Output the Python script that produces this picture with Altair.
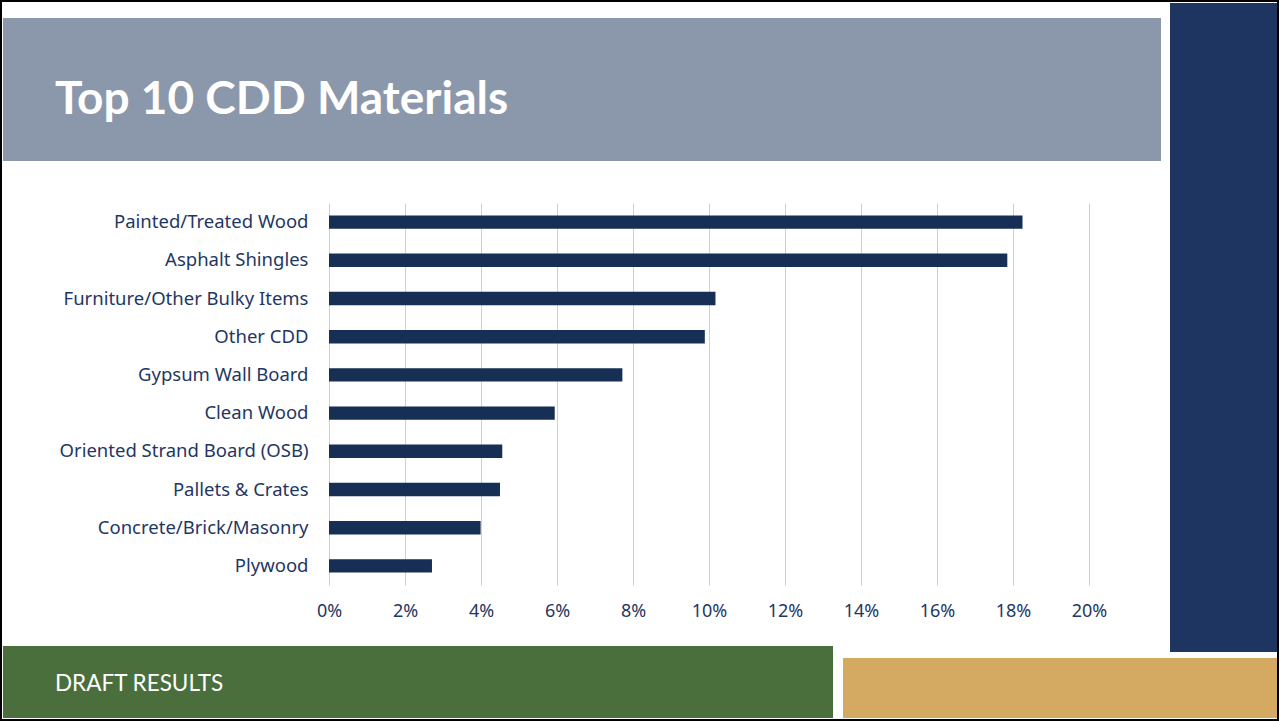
import altair as alt
import pandas as pd

# ---- data ----
categories = [
    "Painted/Treated Wood",
    "Asphalt Shingles",
    "Furniture/Other Bulky Items",
    "Other CDD",
    "Gypsum Wall Board",
    "Clean Wood",
    "Oriented Strand Board (OSB)",
    "Pallets & Crates",
    "Concrete/Brick/Masonry",
    "Plywood",
]
shares = [0.1825, 0.1785, 0.1017, 0.0989, 0.0772, 0.0594, 0.0456, 0.0450, 0.0399, 0.0271]
x_ticks = [0.0, 0.02, 0.04, 0.06, 0.08, 0.10, 0.12, 0.14, 0.16, 0.18, 0.20]
title_text = ["Top 10 CDD Materials"]
footer_text = ["DRAFT RESULTS"]

# ---- layout ----
W, H = 1279, 721
L, T = 329, 203          # plot origin on the page
PW, PH = 760, 382        # plot size

NAVY = "#172E55"
LABEL = "#1F3763"
GRID = "#BFD3F0"

df = pd.DataFrame({"material": categories, "share": shares})
one = pd.DataFrame({"k": [0]})


def box(x0, y0, x1, y1, color):
    return alt.Chart(one).mark_rect(color=color).encode(
        x=alt.value(x0 - L), x2=alt.value(x1 - L),
        y=alt.value(y0 - T), y2=alt.value(y1 - T),
    )


banner = box(3, 18, 1161, 161, "#8B98AB")
side = box(1170, 3, 1277, 652, "#1E3562")
green = box(3, 646, 833, 718, "#4A6F3C")
tan = box(843, 658, 1277, 718, "#D4AA62")

border = alt.Chart(one).mark_rect(filled=False, stroke="black", strokeWidth=2).encode(
    x=alt.value(1 - L), x2=alt.value(W - 1 - L),
    y=alt.value(1 - T), y2=alt.value(H - 1 - T),
)

title = alt.Chart(pd.DataFrame({"t": title_text})).mark_text(
    font="Lato", fontWeight="bold", fontSize=46, color="white",
    align="left", baseline="alphabetic",
).encode(x=alt.value(55 - L), y=alt.value(114 - T), text="t:N")

footer = alt.Chart(pd.DataFrame({"t": footer_text})).mark_text(
    font="Lato", fontSize=22.5, color="white",
    align="left", baseline="alphabetic",
).encode(x=alt.value(55 - L), y=alt.value(691 - T), text="t:N")

bars = alt.Chart(df).mark_bar(color=NAVY).encode(
    y=alt.Y(
        "material:N", sort=categories, title=None,
        scale=alt.Scale(paddingInner=0.65, paddingOuter=0.325),
        axis=alt.Axis(domain=False, ticks=False, grid=False, labelPadding=21,
                      labelLimit=400,
                      labelFont="Noto Sans", labelFontSize=18.5, labelColor=LABEL),
    ),
    x=alt.X(
        "share:Q", title=None,
        scale=alt.Scale(domain=[0, 0.2], nice=False),
        axis=alt.Axis(values=x_ticks, format=".0%", domain=False, ticks=False,
                      grid=True, gridColor=GRID, gridWidth=1, labelPadding=17,
                      labelFlush=False, labelAlign="center",
                      labelFont="Noto Sans", labelFontSize=18, labelColor=LABEL),
    ),
    tooltip=["material:N", alt.Tooltip("share:Q", format=".1%")],
)

chart = alt.layer(banner, side, green, tan, bars, title, footer, border).properties(
    width=PW, height=PH,
    autosize=alt.AutoSizeParams(type="none"),
    padding={"left": L, "top": T, "right": W - L - PW, "bottom": H - T - PH},
    background="white",
).configure_view(stroke=None)

chart.save("out.html", embed_options={"renderer": "svg", "actions": False})
